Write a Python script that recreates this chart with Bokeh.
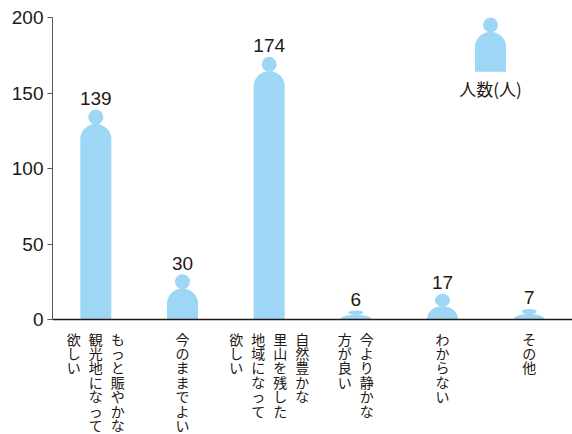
import numpy as np
from bokeh.plotting import figure
from bokeh.models import ColumnDataSource, Range1d, FixedTicker
from bokeh.core.properties import value
from bokeh.embed import file_html
from bokeh.resources import INLINE

# ---- data ----
categories = ["もっと賑やかな観光地になって欲しい", "今のままでよい",
              "自然豊かな里山を残した地域になって欲しい", "今より静かな方が良い",
              "わからない", "その他"]
label_columns = [
    ["もっと賑やかな", "観光地になって", "欲しい"],
    ["今のままでよい"],
    ["自然豊かな", "里山を残した", "地域になって", "欲しい"],
    ["今より静かな", "方が良い"],
    ["わからない"],
    ["その他"],
]
counts = [139, 30, 174, 6, 17, 7]
y_ticks = [0, 50, 100, 150, 200]
legend_label = "人数(人)"

# ---- layout ----
W, H = 572, 434
LEFT, TOP, BOTTOM = 52, 17, 115
YMAX = 200
NCAT = len(categories)
px_x = (W - LEFT) / NCAT                 # px per x unit
px_y = (H - TOP - BOTTOM) / YMAX         # px per y unit
YMIN = -BOTTOM / px_y                    # room for the vertical labels

BLUE = "#9ed6f5"
INK = "#231815"

p = figure(width=W, height=H, x_range=Range1d(0, NCAT), y_range=Range1d(YMIN, YMAX),
           output_backend="svg", toolbar_location=None,
           min_border_left=LEFT, min_border_right=0, min_border_top=TOP,
           min_border_bottom=0)
p.outline_line_color = None
p.xgrid.visible = False
p.ygrid.visible = False
p.background_fill_color = "white"
p.border_fill_color = "white"

# person shape in data units
BW = 15.5 / px_x
HEAD_W = 15 / px_x
HEAD_H = 15 / px_y
SHOULDER = 15 / px_y


def person(xc, base, top):
    h = top - base
    f = min(1.0, h / (HEAD_H + SHOULDER))
    hh = HEAD_H * f
    hs = SHOULDER * f
    bt = top - hh + 0.4 * f
    yc = bt - hs
    t = np.linspace(np.pi, 0, 40)
    xs = [xc - BW] + list(xc + BW * np.cos(t)) + [xc + BW]
    ys = [base] + list(np.maximum(base, yc + hs * np.sin(t))) + [base]
    return xs, ys, (xc, top - hh / 2, HEAD_W, hh)


centers = [i + 0.5 for i in range(NCAT)]
body_xs, body_ys, hx, hy, hw, hh = [], [], [], [], [], []
for c, v in zip(centers, counts):
    xs, ys, head = person(c, 0, v)
    body_xs.append(xs); body_ys.append(ys)
    hx.append(head[0]); hy.append(head[1]); hw.append(head[2]); hh.append(head[3])

# legend person
LX = (490 - LEFT) / px_x
lxs, lys, lhead = person(LX, 164, 200)
body_xs.append(lxs); body_ys.append(lys)
hx.append(lhead[0]); hy.append(lhead[1]); hw.append(lhead[2]); hh.append(lhead[3])

p.patches(xs=body_xs, ys=body_ys, fill_color=BLUE, line_color=None)
p.ellipse(x=hx, y=hy, width=hw, height=hh, fill_color=BLUE, line_color=None)

# value labels
vsrc = ColumnDataSource(dict(x=centers, y=[v + 3 for v in counts], t=[str(v) for v in counts]))
p.text(x="x", y="y", text="t", source=vsrc, text_align="center", text_baseline="bottom",
       text_font=value("Liberation Sans"), text_font_size="19px", text_color=INK)

# legend text
p.text(x=[LX], y=[161.5], text=[legend_label], text_align="center", text_baseline="top",
       text_font=value("Noto Sans CJK JP"), text_font_size="17px", text_color=INK)

# vertical category labels: one x-axis tick per text column (right-to-left)
PITCH = 22
col_ticks, col_text = [], {}
for c, cols in zip(centers, label_columns):
    n = len(cols)
    for j, col in enumerate(cols):
        pos = round(c + ((n - 1) / 2 * PITCH - j * PITCH) / px_x, 4)
        col_ticks.append(pos)
        col_text[pos] = "\n".join(col)

# axes
p.yaxis.ticker = FixedTicker(ticks=y_ticks)
p.yaxis.bounds = (0, YMAX)
p.yaxis.minor_tick_line_color = None
p.yaxis.major_tick_in = 0
p.yaxis.major_tick_out = 5
p.yaxis.major_label_standoff = 4
p.yaxis.axis_line_color = "#555555"
p.yaxis.major_tick_line_color = "#555555"
p.yaxis.major_label_text_font = "Liberation Sans"
p.yaxis.major_label_text_font_size = "19px"
p.yaxis.major_label_text_color = INK

p.xaxis.fixed_location = 0
p.xaxis.ticker = FixedTicker(ticks=sorted(col_ticks))
p.xaxis.major_label_overrides = col_text
p.xaxis.minor_tick_line_color = None
p.xaxis.major_tick_line_color = None
p.xaxis.major_tick_in = 0
p.xaxis.major_tick_out = 0
p.xaxis.major_label_standoff = 9
p.xaxis.major_label_text_font = "Noto Sans CJK JP"
p.xaxis.major_label_text_font_size = "14px"
p.xaxis.major_label_text_line_height = 0.72
p.xaxis.major_label_text_color = INK
p.xaxis.axis_line_color = INK
p.xaxis.axis_line_width = 1.5

open("out.html", "w").write(file_html(p, INLINE))
